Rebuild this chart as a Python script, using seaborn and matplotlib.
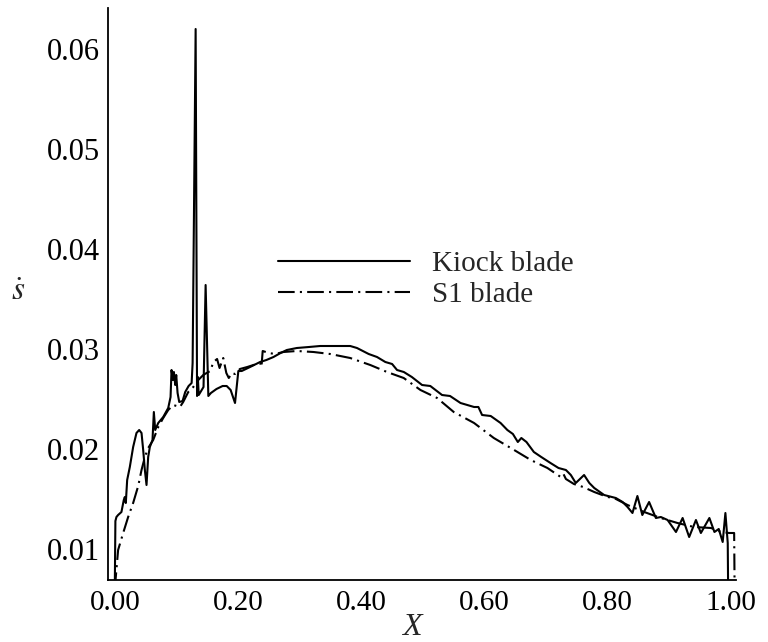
import matplotlib
matplotlib.use("Agg")
import matplotlib.pyplot as plt
import numpy as np
import pandas as pd
import seaborn as sns

# ---------------- data ----------------
kiock_x = [0.0000, 0.0010, 0.0027, 0.0054, 0.0108, 0.0146, 0.0163, 0.0179, 0.0201, 0.0244,
           0.0298, 0.0352, 0.0396, 0.0434, 0.0461, 0.0488, 0.0515, 0.0542, 0.0569, 0.0612,
           0.0634, 0.0656, 0.0705, 0.0786, 0.0867, 0.0905, 0.0921, 0.0943, 0.0959, 0.0981,
           0.0997, 0.1019, 0.1046, 0.1100, 0.1143, 0.1198, 0.1247, 0.1263, 0.1312, 0.1335,
           0.1348, 0.1362, 0.1440, 0.1474, 0.1518, 0.1560, 0.1650, 0.1750, 0.1816, 0.1880,
           0.1951, 0.2005, 0.2060, 0.2195, 0.2358, 0.2460, 0.2575, 0.2690, 0.2792, 0.2954,
           0.3150, 0.3333, 0.3600, 0.3820, 0.3930, 0.4120, 0.4255, 0.4390, 0.4500, 0.4580,
           0.4690, 0.4820, 0.4986, 0.5120, 0.5310, 0.5440, 0.5610, 0.5830, 0.5900, 0.5960,
           0.6100, 0.6260, 0.6370, 0.6460, 0.6540, 0.6597, 0.6680, 0.6800, 0.6920, 0.7070,
           0.7200, 0.7320, 0.7400, 0.7480, 0.7615, 0.7700, 0.7780, 0.7940, 0.8130, 0.8240,
           0.8320, 0.8400, 0.8480, 0.8560, 0.8670, 0.8780, 0.8860, 0.8970, 0.9106, 0.9214,
           0.9320, 0.9430, 0.9510, 0.9648, 0.9730, 0.9800, 0.9864, 0.9908, 0.9946, 0.9955]
kiock_s = [0.0060, 0.0128, 0.0132, 0.0134, 0.0137, 0.0149, 0.0152, 0.0146, 0.0169, 0.0182,
           0.0202, 0.0216, 0.0219, 0.0216, 0.0199, 0.0179, 0.0164, 0.0192, 0.0202, 0.0209,
           0.0237, 0.0219, 0.0226, 0.0232, 0.0241, 0.0252, 0.0279, 0.0269, 0.0277, 0.0264,
           0.0274, 0.0256, 0.0247, 0.0248, 0.0257, 0.0263, 0.0266, 0.0286, 0.0620, 0.0253,
           0.0272, 0.0254, 0.0262, 0.0364, 0.0253, 0.0256, 0.0260, 0.0263, 0.0263, 0.0259,
           0.0246, 0.0278, 0.0278, 0.0282, 0.0287, 0.0289, 0.0292, 0.0296, 0.0299, 0.0301,
           0.0302, 0.0303, 0.0303, 0.0303, 0.0301, 0.0295, 0.0292, 0.0287, 0.0285, 0.0279,
           0.0277, 0.0272, 0.0264, 0.0263, 0.0254, 0.0253, 0.0246, 0.0242, 0.0242, 0.0234,
           0.0233, 0.0226, 0.0219, 0.0215, 0.0207, 0.0211, 0.0207, 0.0197, 0.0192, 0.0186,
           0.0181, 0.0179, 0.0174, 0.0166, 0.0174, 0.0166, 0.0161, 0.0154, 0.0151, 0.0147,
           0.0142, 0.0136, 0.0153, 0.0134, 0.0147, 0.0131, 0.0132, 0.0129, 0.0117, 0.0131,
           0.0112, 0.0129, 0.0116, 0.0131, 0.0117, 0.0120, 0.0107, 0.0136, 0.0106, 0.0040]

s1_x = [0.0000, 0.0054, 0.0136, 0.0217, 0.0298, 0.0380, 0.0434, 0.0488, 0.0542, 0.0623,
        0.0705, 0.0786, 0.0867, 0.0949, 0.1057, 0.1110, 0.1192, 0.1274, 0.1355, 0.1436,
        0.1490, 0.1550, 0.1600, 0.1660, 0.1700, 0.1760, 0.1810, 0.1850, 0.1900, 0.1950,
        0.2030, 0.2150, 0.2250, 0.2358, 0.2380, 0.2400, 0.2500, 0.2600, 0.2737, 0.2954,
        0.3225, 0.3496, 0.3820, 0.4146, 0.4417, 0.4688, 0.4960, 0.5230, 0.5500, 0.5830,
        0.6150, 0.6480, 0.6750, 0.7020, 0.7236, 0.7280, 0.7320, 0.7450, 0.7600, 0.7780,
        0.7995, 0.8100, 0.8320, 0.8590, 0.8860, 0.9130, 0.9400, 0.9675, 0.9840, 0.9970,
        1.0050, 1.0060]
s1_s = [0.0060, 0.0099, 0.0116, 0.0132, 0.0146, 0.0163, 0.0179, 0.0192, 0.0201, 0.0209,
        0.0222, 0.0231, 0.0239, 0.0244, 0.0242, 0.0247, 0.0257, 0.0262, 0.0269, 0.0274,
        0.0276, 0.0278, 0.0287, 0.0290, 0.0281, 0.0291, 0.0276, 0.0271, 0.0276, 0.0275,
        0.0280, 0.0282, 0.0284, 0.0286, 0.0282, 0.0298, 0.0296, 0.0295, 0.0297, 0.0298,
        0.0297, 0.0295, 0.0291, 0.0284, 0.0277, 0.0271, 0.0259, 0.0251, 0.0237, 0.0226,
        0.0211, 0.0199, 0.0189, 0.0181, 0.0172, 0.0175, 0.0170, 0.0165, 0.0162, 0.0157,
        0.0152, 0.0151, 0.0144, 0.0137, 0.0131, 0.0126, 0.0122, 0.0121, 0.0117, 0.0116,
        0.0116, 0.0040]

series_names = ["Kiock blade", "S1 blade"]
x_ticks = [0.0, 0.2, 0.4, 0.6, 0.8, 1.0]
x_ticklabels = ["0.00", "0.20", "0.40", "0.60", "0.80", "1.00"]
y_ticks = [0.01, 0.02, 0.03, 0.04, 0.05, 0.06]
y_ticklabels = ["0.01", "0.02", "0.03", "0.04", "0.05", "0.06"]

df = pd.concat([
    pd.DataFrame({"X": kiock_x, "s": kiock_s, "blade": series_names[0]}),
    pd.DataFrame({"X": s1_x, "s": s1_s, "blade": series_names[1]}),
], ignore_index=True)

# ---------------- style ----------------
sns.set_theme(style="white")
plt.rcParams["font.family"] = ["Liberation Serif", "DejaVu Serif"]
plt.rcParams["mathtext.fontset"] = "stix"

W, H = 768, 642
fig = plt.figure(figsize=(W / 100, H / 100), dpi=100)
left, right, top, bottom = 108, 736, 8, 580
ax = fig.add_axes([left / W, 1 - bottom / H, (right - left) / W, (bottom - top) / H])

sns.lineplot(data=df, x="X", y="s", hue="blade", style="blade",
             palette={series_names[0]: "black", series_names[1]: "black"},
             dashes={series_names[0]: "", series_names[1]: (8, 2.5, 1, 2.5)},
             sort=False, estimator=None, linewidth=1.5, ax=ax)

ax.set_xlim(-0.011, 1.008)
ax.set_ylim(0.0069, 0.0641)
ax.set_xticks(x_ticks)
ax.set_xticklabels(x_ticklabels)
ax.set_yticks(y_ticks)
ax.set_yticklabels(y_ticklabels)
ax.tick_params(axis="both", direction="in", length=10, width=1.3, colors="black")
ax.tick_params(axis="x", pad=7, labelsize=21)
ax.tick_params(axis="y", pad=6, labelsize=22)
for side in ["top", "right"]:
    ax.spines[side].set_visible(False)
for side in ["left", "bottom"]:
    ax.spines[side].set_color("black")
    ax.spines[side].set_linewidth(1.3)

ax.set_xlabel("X", fontsize=23, fontstyle="italic")
ax.xaxis.set_label_coords((412 - left) / (right - left), (bottom - 642) / (bottom - top))
ax.xaxis.label.set_va("bottom")
ax.set_ylabel(r"$\dot{s}$", fontsize=24, rotation=0)
ax.yaxis.set_label_coords((18 - left) / (right - left), (bottom - 292) / (bottom - top))
ax.yaxis.label.set_va("center")

handles, labels = ax.get_legend_handles_labels()
ax.legend(handles, labels, frameon=False, loc="upper left",
          bbox_to_anchor=(278 / W, 1 - 251 / H), bbox_transform=fig.transFigure,
          fontsize=21, handlelength=4.52, handletextpad=0.75, labelspacing=0.15,
          borderpad=0, borderaxespad=0)

fig.savefig("out.png", dpi=100)
